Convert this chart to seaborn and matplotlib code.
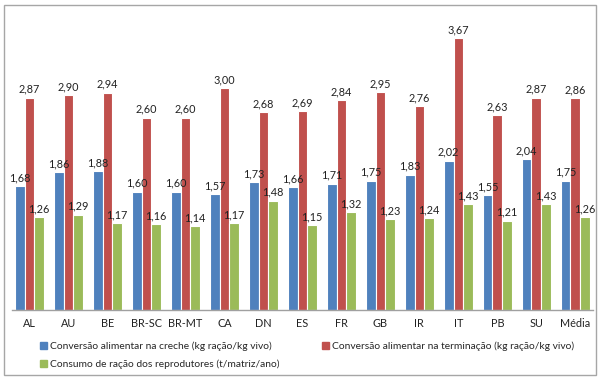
import matplotlib
matplotlib.use("Agg")
import matplotlib.pyplot as plt
import seaborn as sns
import pandas as pd
from matplotlib.patches import Rectangle

# Data
paises = ['AL', 'AU', 'BE', 'BR-SC', 'BR-MT', 'CA', 'DN', 'ES', 'FR', 'GB',
          'IR', 'IT', 'PB', 'SU', 'Média']
creche = [1.68, 1.86, 1.88, 1.60, 1.60, 1.57, 1.73, 1.66, 1.71, 1.75,
          1.83, 2.02, 1.55, 2.04, 1.75]
terminacao = [2.87, 2.90, 2.94, 2.60, 2.60, 3.00, 2.68, 2.69, 2.84, 2.95,
              2.76, 3.67, 2.63, 2.87, 2.86]
reprodutores = [1.26, 1.29, 1.17, 1.16, 1.14, 1.17, 1.48, 1.15, 1.32, 1.23,
                1.24, 1.43, 1.21, 1.43, 1.26]

series = ['Conversão alimentar na creche (kg ração/kg vivo)',
          'Conversão alimentar na terminação (kg ração/kg vivo)',
          'Consumo de ração dos reprodutores (t/matriz/ano)']
cores = ['#4F81BD', '#C0504D', '#9BBB59']

df = pd.DataFrame({
    'pais': paises * 3,
    'valor': creche + terminacao + reprodutores,
    'serie': [series[0]] * len(paises) + [series[1]] * len(paises) + [series[2]] * len(paises),
})

sns.set_style('white')
plt.rcParams['font.family'] = ['Lato', 'DejaVu Sans']

fig = plt.figure(figsize=(6, 3.8), dpi=100)
ax = fig.add_axes([0.02, 0.184, 0.968, 0.779])

sns.barplot(data=df, x='pais', y='valor', hue='serie', palette=cores, saturation=1,
            width=0.74, edgecolor='white', linewidth=0.8, ax=ax, legend=False)

for cont in ax.containers:
    ax.bar_label(cont, labels=[f'{b.get_height():.2f}'.replace('.', ',') for b in cont],
                 padding=2, fontsize=7.8, color='#222222')

ax.set_ylim(0, 4)
ax.set_xlim(-0.45, len(paises) - 0.55)
ax.set_xlabel('')
ax.set_ylabel('')
ax.set_yticks([])
ax.tick_params(axis='x', length=0, labelsize=7.8, pad=6, colors='#222222')
for s in ['left', 'right', 'top']:
    ax.spines[s].set_visible(False)
ax.spines['bottom'].set_color('#A0A0A0')
ax.spines['bottom'].set_linewidth(1)

# legend placed below in Excel style, one entry per anchor
handles = [Rectangle((0, 0), 1, 1, color=c) for c in cores]
anchors = [(0.066, 0.101), (0.536, 0.101), (0.066, 0.054)]
for h, lab, anc in zip(handles, series, anchors):
    fig.legend([h], [lab], loc='upper left', bbox_to_anchor=anc,
               frameon=False, fontsize=7.4, handlelength=0.75, handleheight=0.75,
               handletextpad=0.3, borderpad=0, borderaxespad=0)

# outer chart border
fig.patches.append(Rectangle((0.006, 0.013), 0.988, 0.974, transform=fig.transFigure,
                             fill=False, edgecolor='#A6A6A6', linewidth=1))

fig.savefig('out.png', dpi=100)
